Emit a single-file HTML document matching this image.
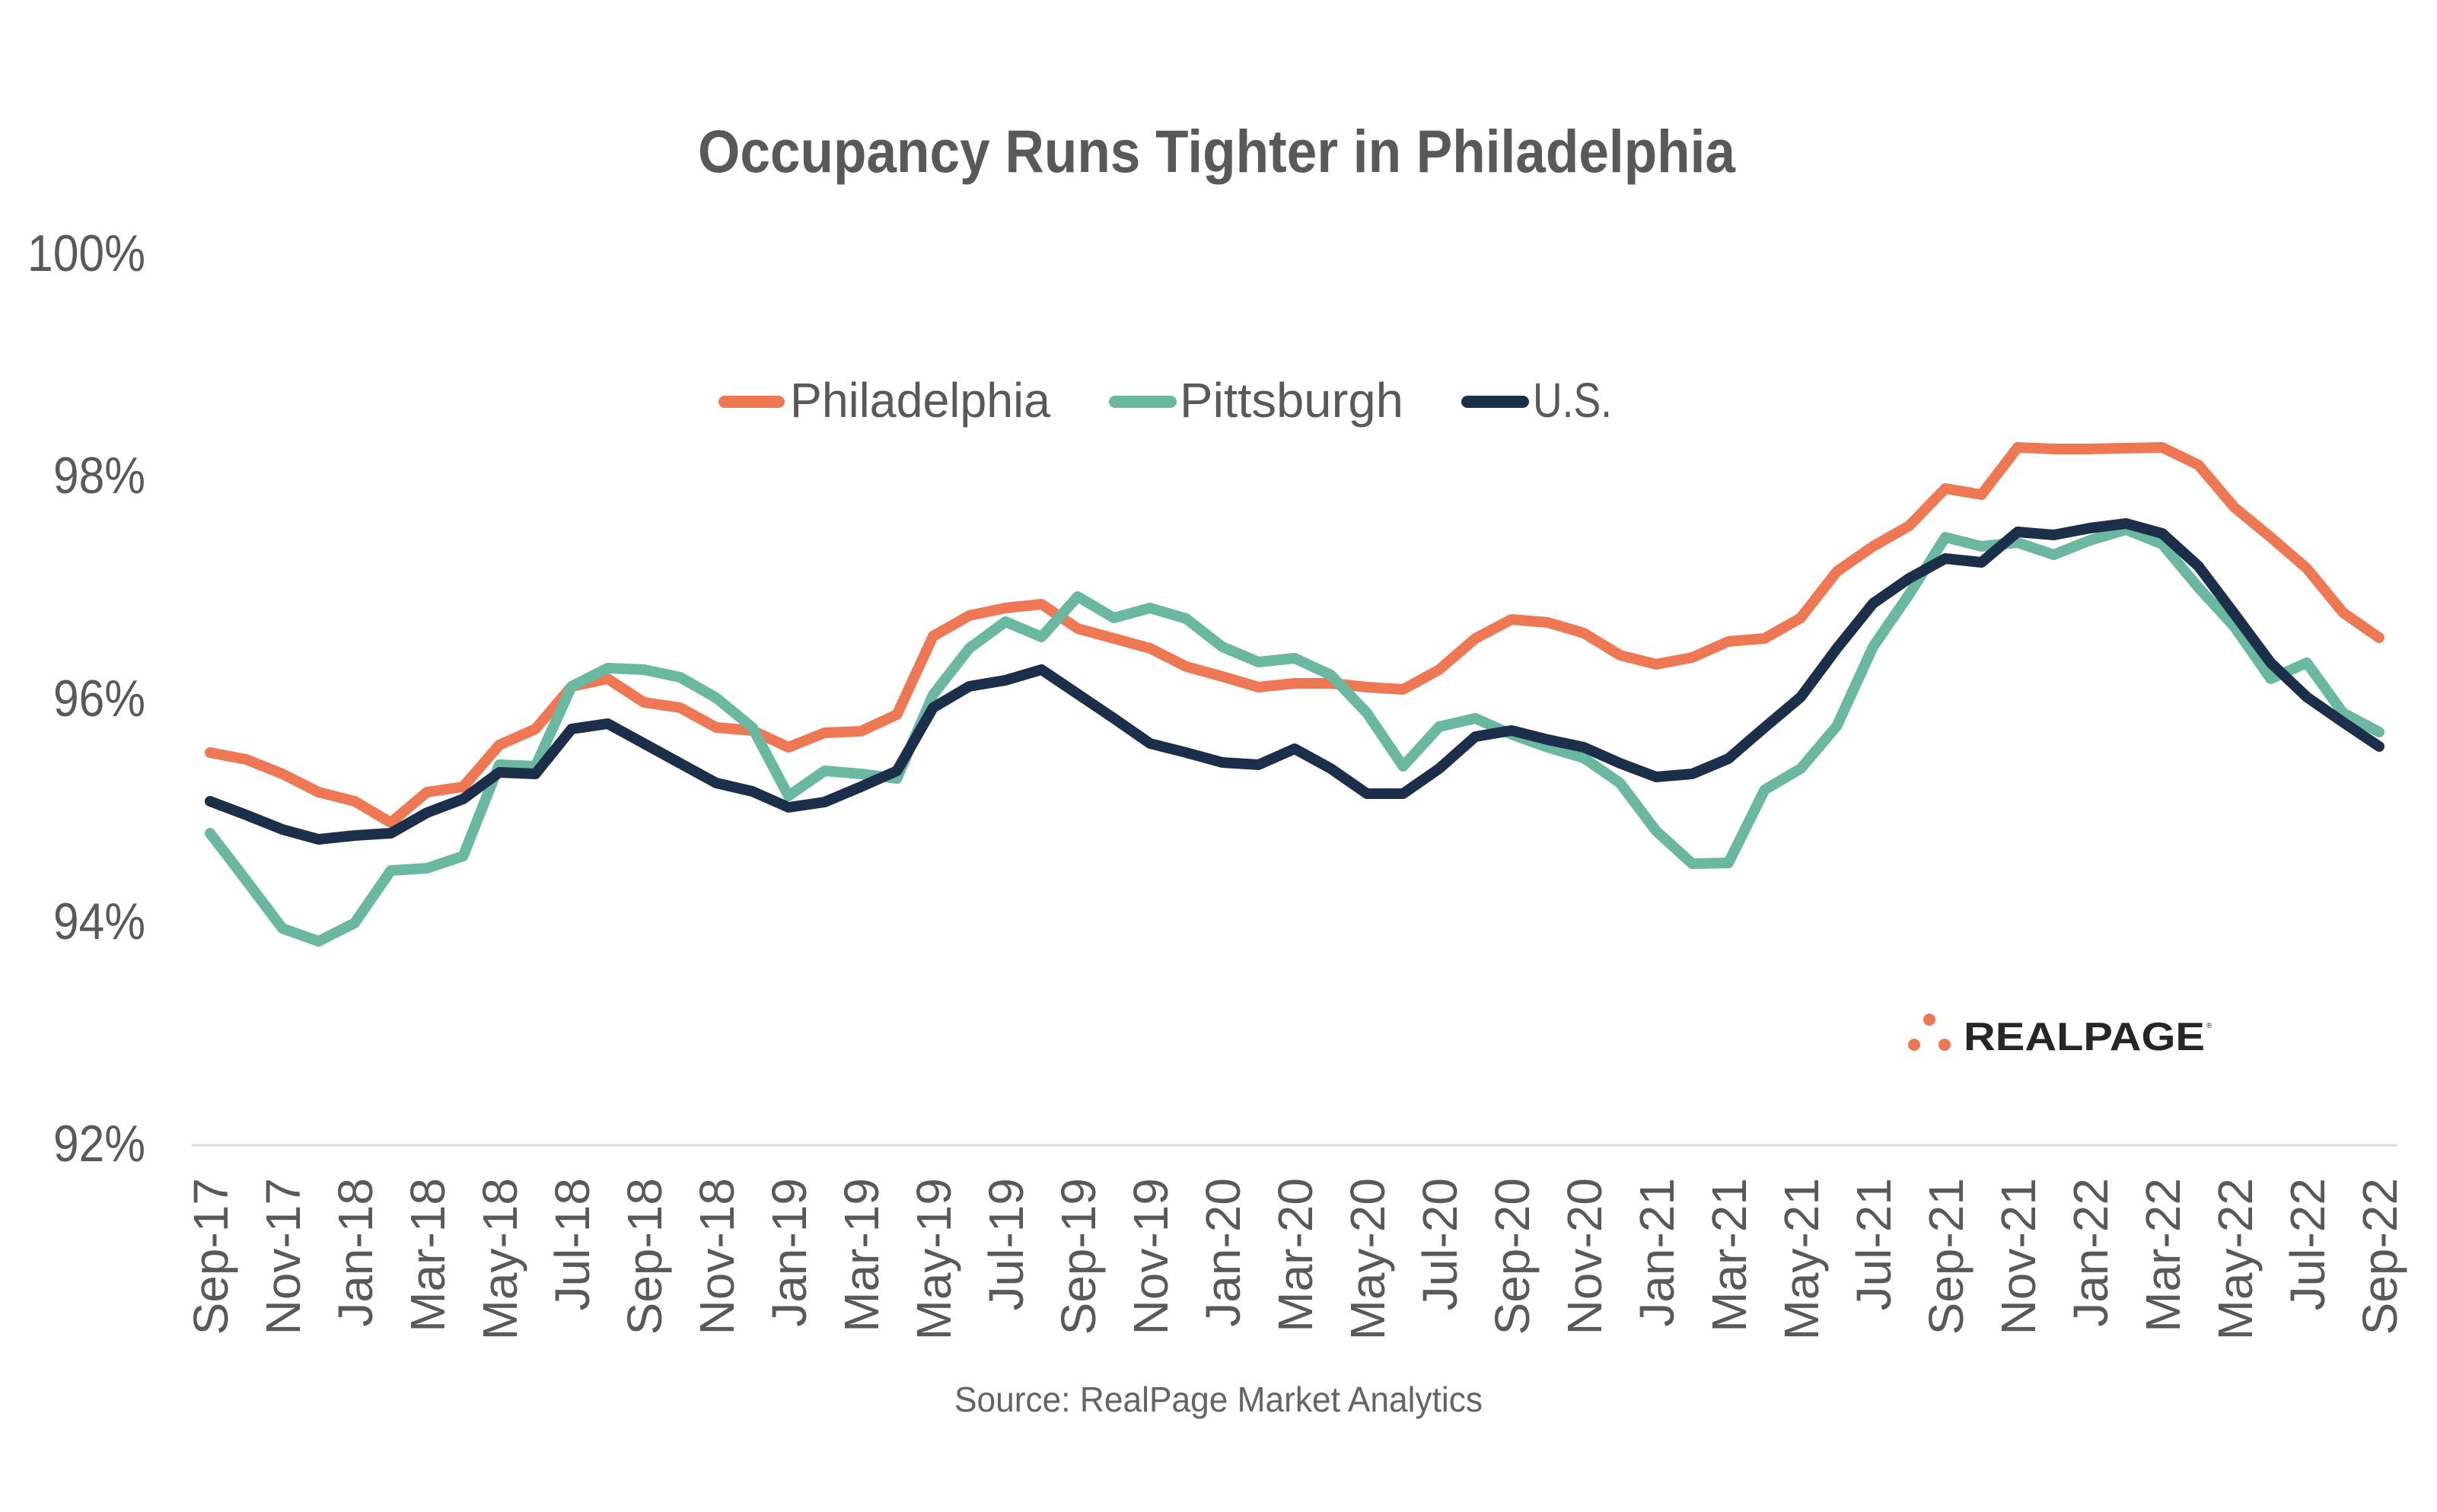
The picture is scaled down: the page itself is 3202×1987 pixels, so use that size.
<!DOCTYPE html>
<html>
<head>
<meta charset="utf-8">
<style>
  html, body { margin: 0; padding: 0; background: #ffffff; }
  svg { display: block; }
  text { font-family: "Liberation Sans", "DejaVu Sans", sans-serif; }
</style>
</head>
<body>
<svg width="3202" height="1987" viewBox="0 0 3202 1987" xmlns="http://www.w3.org/2000/svg">
  <rect x="0" y="0" width="3202" height="1987" fill="#ffffff"/>

  <!-- Title -->
  <text x="917" y="226" font-size="79" font-weight="bold" fill="#595959" textLength="1363" lengthAdjust="spacingAndGlyphs">Occupancy Runs Tighter in Philadelphia</text>

  <!-- Y axis labels -->
  <g font-size="68" fill="#595959">
    <text x="36" y="356" textLength="155" lengthAdjust="spacingAndGlyphs">100%</text>
    <text x="70" y="648" textLength="121" lengthAdjust="spacingAndGlyphs">98%</text>
    <text x="70" y="941" textLength="121" lengthAdjust="spacingAndGlyphs">96%</text>
    <text x="70" y="1234" textLength="121" lengthAdjust="spacingAndGlyphs">94%</text>
    <text x="70" y="1526" textLength="121" lengthAdjust="spacingAndGlyphs">92%</text>
  </g>

  <!-- Axis line -->
  <line x1="252" y1="1505" x2="3150" y2="1505" stroke="#d9d9d9" stroke-width="3"/>

  <!-- Legend -->
  <line x1="952" y1="528" x2="1023" y2="528" stroke="#EE7854" stroke-width="16" stroke-linecap="round"/>
  <text x="1038" y="548" font-size="64" fill="#595959" textLength="342" lengthAdjust="spacingAndGlyphs">Philadelphia</text>
  <line x1="1465" y1="528" x2="1538" y2="528" stroke="#6AB8A0" stroke-width="16" stroke-linecap="round"/>
  <text x="1550" y="548" font-size="64" fill="#595959" textLength="294" lengthAdjust="spacingAndGlyphs">Pittsburgh</text>
  <line x1="1928" y1="528" x2="2001" y2="528" stroke="#1B2F4B" stroke-width="16" stroke-linecap="round"/>
  <text x="2014" y="548" font-size="64" fill="#595959" textLength="104" lengthAdjust="spacingAndGlyphs">U.S.</text>

  <!-- Series -->
  <g fill="none" stroke-width="14" stroke-linejoin="round" stroke-linecap="round">
    <polyline stroke="#EE7854" points="276,989 323.5,998 371,1017 418.5,1041 466,1053 513.5,1081 561,1041 608.5,1034 656,979 703.5,958 751,902 798.5,892 846,923 893.5,930 941,956 988.5,960 1036,982 1083.5,963 1131,961 1178.5,939 1226,836 1273.5,809 1321,799 1368.5,794 1416,826 1463.5,839 1511,852 1558.5,876 1606,889 1653.5,903 1701,898 1748.5,898 1796,903 1843.5,906 1891,880 1938.5,839 1986,814 2033.5,818 2081,832 2128.5,861 2176,873 2223.5,864 2271,843 2318.5,839 2366,812 2413.5,751 2461,718 2508.5,691 2556,642 2603.5,650 2651,588 2698.5,590 2746,590 2793.5,589 2841,588 2888.5,611 2936,667 2983.5,706 3031,747 3078.5,805 3126,838"/>
    <polyline stroke="#6AB8A0" points="276,1095 323.5,1157 371,1220 418.5,1237 466,1213 513.5,1144 561,1141 608.5,1125 656,1005 703.5,1007 751,902 798.5,878 846,880 893.5,890 941,917 988.5,956 1036,1046 1083.5,1013 1131,1017 1178.5,1023 1226,913 1273.5,852 1321,817 1368.5,837 1416,784 1463.5,812 1511,799 1558.5,813 1606,850 1653.5,870 1701,865 1748.5,887 1796,937 1843.5,1007 1891,955 1938.5,944 1986,965 2033.5,982 2081,996 2128.5,1029 2176,1092 2223.5,1135 2271,1134 2318.5,1038 2366,1010 2413.5,954 2461,850 2508.5,781 2556,706 2603.5,718 2651,713 2698.5,729 2746,710 2793.5,696 2841,715 2888.5,772 2936,824 2983.5,892 3031,871 3078.5,937 3126,962"/>
    <polyline stroke="#1B2F4B" points="276,1053 323.5,1071 371,1090 418.5,1103 466,1098 513.5,1095 561,1068 608.5,1050 656,1015 703.5,1017 751,958 798.5,951 846,977 893.5,1003 941,1029 988.5,1040 1036,1061 1083.5,1054 1131,1034 1178.5,1013 1226,930 1273.5,902 1321,894 1368.5,880 1416,912 1463.5,944 1511,977 1558.5,989 1606,1002 1653.5,1005 1701,984 1748.5,1010 1796,1043 1843.5,1043 1891,1010 1938.5,968 1986,960 2033.5,972 2081,982 2128.5,1003 2176,1021 2223.5,1017 2271,997 2318.5,956 2366,916 2413.5,852 2461,793 2508.5,760 2556,734 2603.5,739 2651,699 2698.5,703 2746,694 2793.5,688 2841,701 2888.5,744 2936,807 2983.5,871 3031,916 3078.5,949 3126,981"/>
  </g>

  <!-- X axis labels (rotated) -->
  <g font-size="64" fill="#595959" text-anchor="end">
    <text transform="translate(299,1548) rotate(-90)">Sep-17</text>
    <text transform="translate(394,1548) rotate(-90)">Nov-17</text>
    <text transform="translate(489,1548) rotate(-90)">Jan-18</text>
    <text transform="translate(584,1548) rotate(-90)">Mar-18</text>
    <text transform="translate(679,1548) rotate(-90)">May-18</text>
    <text transform="translate(774,1548) rotate(-90)">Jul-18</text>
    <text transform="translate(869,1548) rotate(-90)">Sep-18</text>
    <text transform="translate(964,1548) rotate(-90)">Nov-18</text>
    <text transform="translate(1059,1548) rotate(-90)">Jan-19</text>
    <text transform="translate(1154,1548) rotate(-90)">Mar-19</text>
    <text transform="translate(1249,1548) rotate(-90)">May-19</text>
    <text transform="translate(1344,1548) rotate(-90)">Jul-19</text>
    <text transform="translate(1439,1548) rotate(-90)">Sep-19</text>
    <text transform="translate(1534,1548) rotate(-90)">Nov-19</text>
    <text transform="translate(1629,1548) rotate(-90)">Jan-20</text>
    <text transform="translate(1724,1548) rotate(-90)">Mar-20</text>
    <text transform="translate(1819,1548) rotate(-90)">May-20</text>
    <text transform="translate(1914,1548) rotate(-90)">Jul-20</text>
    <text transform="translate(2009,1548) rotate(-90)">Sep-20</text>
    <text transform="translate(2104,1548) rotate(-90)">Nov-20</text>
    <text transform="translate(2199,1548) rotate(-90)">Jan-21</text>
    <text transform="translate(2294,1548) rotate(-90)">Mar-21</text>
    <text transform="translate(2389,1548) rotate(-90)">May-21</text>
    <text transform="translate(2484,1548) rotate(-90)">Jul-21</text>
    <text transform="translate(2579,1548) rotate(-90)">Sep-21</text>
    <text transform="translate(2674,1548) rotate(-90)">Nov-21</text>
    <text transform="translate(2769,1548) rotate(-90)">Jan-22</text>
    <text transform="translate(2864,1548) rotate(-90)">Mar-22</text>
    <text transform="translate(2959,1548) rotate(-90)">May-22</text>
    <text transform="translate(3054,1548) rotate(-90)">Jul-22</text>
    <text transform="translate(3149,1548) rotate(-90)">Sep-22</text>
  </g>

  <!-- RealPage logo -->
  <circle cx="2535" cy="1340" r="8" fill="#EE7854"/>
  <circle cx="2515" cy="1373" r="8" fill="#EE7854"/>
  <circle cx="2555" cy="1373" r="8" fill="#EE7854"/>
  <text x="2580" y="1380" font-size="52" font-weight="bold" fill="#262626" textLength="317" lengthAdjust="spacingAndGlyphs">REALPAGE</text>
  <text x="2899" y="1351" font-size="10" fill="#262626">®</text>

  <!-- Source -->
  <text x="1254" y="1855" font-size="46" fill="#636466" textLength="694" lengthAdjust="spacingAndGlyphs">Source: RealPage Market Analytics</text>
</svg>
</body>
</html>
